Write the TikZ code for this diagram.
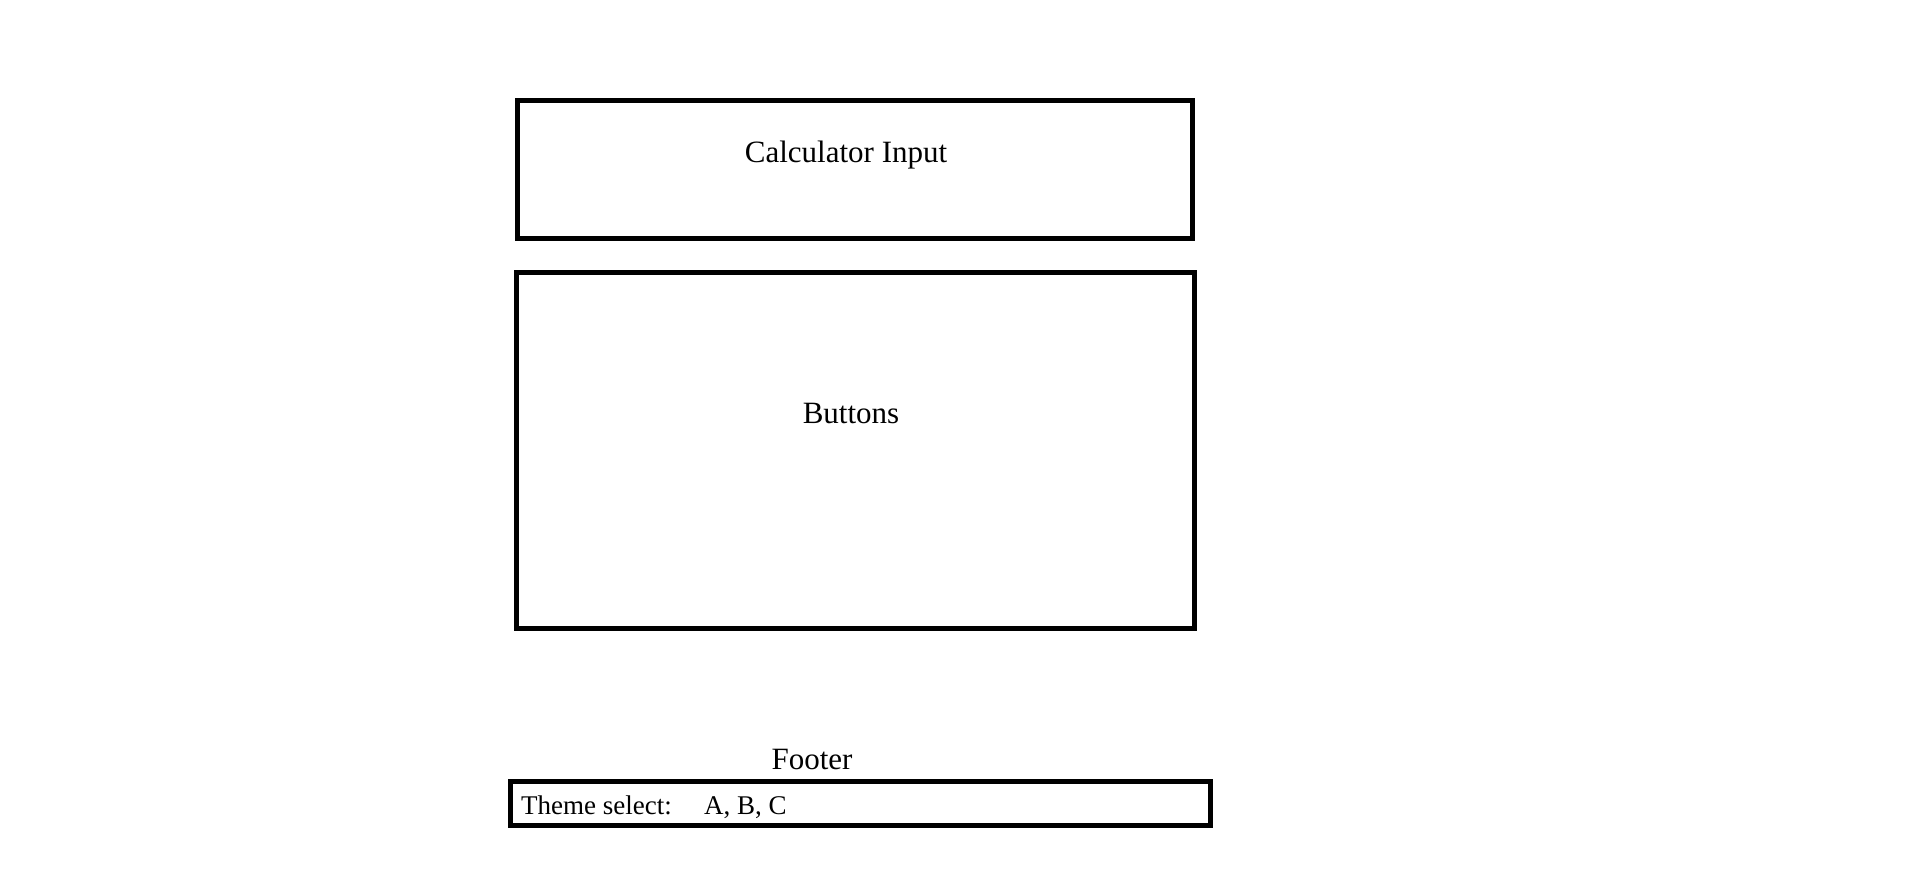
\documentclass[tikz,border=0pt]{standalone}
\usepackage{fontspec}
\setmainfont{Liberation Serif}
\begin{document}
\begin{tikzpicture}[x=1pt,y=-1pt,
  panel/.style={draw=black,line width=5pt,fill=none},
  lbl/.style={inner sep=0pt,font=\fontsize{31}{36}\selectfont},
  small/.style={inner sep=0pt,font=\fontsize{27}{32}\selectfont,anchor=base west}]
\useasboundingbox[fill=white] (0,0) rectangle (1923,868);
\draw[panel] (517.5,100.6) rectangle (1192,238);
\draw[panel] (516,272) rectangle (1194.5,628);
\draw[panel] (510,781) rectangle (1210.5,825);
\node[lbl] (inp) at (846,155) {Calculator Input};
\node[lbl] (btn) at (851,413) {Buttons};
\node[lbl] (foot) at (812,759) {Footer};
\node[small] (theme) at (521,814) {Theme select:};
\node[small] (abc) at (704,814) {A, B, C};
\end{tikzpicture}
\end{document}
